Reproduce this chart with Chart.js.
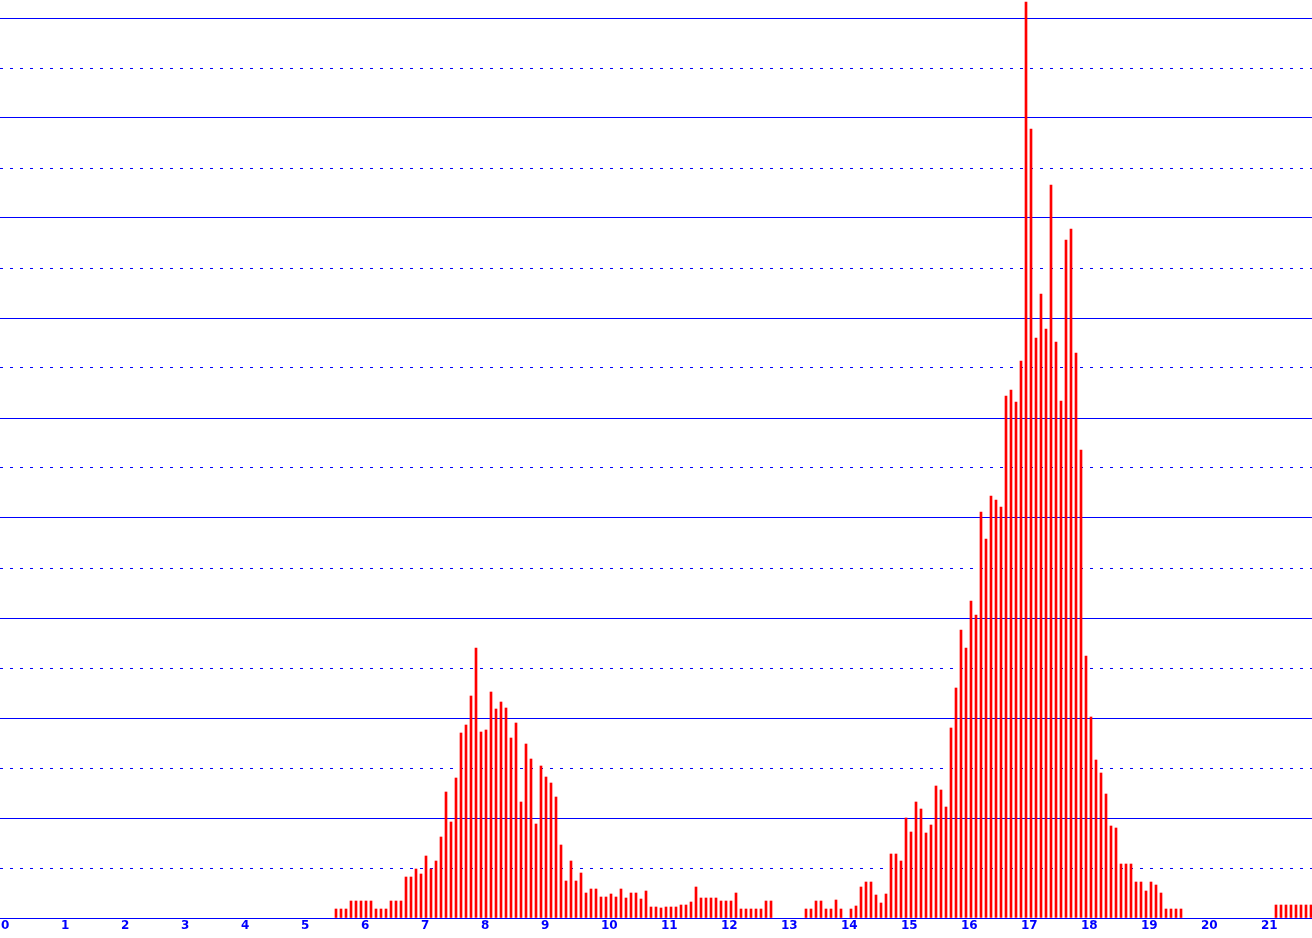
<!DOCTYPE html>
<html>
<head>
<meta charset="utf-8">
<script src="https://cdn.jsdelivr.net/npm/chart.js@4/dist/chart.umd.min.js"></script>
<style>
  html, body { margin: 0; padding: 0; background: #ffffff; }
  #wrap { width: 1312px; height: 938px; }
</style>
</head>
<body>
<div id="wrap"><canvas id="c" width="1312" height="938"></canvas></div>
<script>
// ---- data ----
const binsPerUnit = 12;          // bin width = 1/12 of an x unit
const firstBin = 67;             // index of first bin shown (67/12 ≈ 5.58)
const counts = [
  // 5.58 .. 9.58
  9, 9, 9, 17, 17, 17, 17, 17, 9, 9, 9, 17, 17, 17, 41, 41, 49, 44, 62, 49,
  57, 81, 126, 96, 140, 185, 193, 222, 270, 186, 188, 226, 209, 216, 210, 180, 195, 116, 174, 159,
  94, 152, 141, 135, 121, 73, 37, 57, 37,
  // 9.67 .. 13.58
  45, 25, 29, 29, 21, 21, 24, 21, 29, 20, 25, 25, 19, 27, 11, 11, 10, 11, 11, 11,
  13, 13, 16, 31, 20, 20, 20, 20, 17, 17, 17, 25, 9, 9, 9, 9, 9, 17, 17, 0,
  0, 0, 0, 0, 0, 9, 9, 17,
  // 13.67 .. 16.25
  17, 9, 9, 18, 9, 0, 9, 12, 31, 36, 36, 23, 15, 24, 64, 64, 57, 100, 86, 116,
  109, 85, 93, 132, 128, 111, 190, 230, 288, 270, 317, 303,
  // 16.33 .. 18.0
  406, 379, 422, 418, 411, 522, 528, 516, 557, 916, 789, 580, 624, 589, 733, 576, 517, 678, 689, 565,
  468,
  // 18.08 .. 19.67
  262, 201, 158, 145, 124, 92, 90, 54, 54, 54, 36, 36, 27, 36, 33, 25, 9, 9, 9, 9,
  // 19.75 .. 21.17 (empty)
  0, 0, 0, 0, 0, 0, 0, 0, 0, 0, 0, 0, 0, 0, 0, 0, 0, 0,
  // 21.25 ..
  13, 13, 13, 13, 13, 13, 13, 13
];
const xTickValues = [0,1,2,3,4,5,6,7,8,9,10,11,12,13,14,15,16,17,18,19,20,21];
const xTickLabels = ['0','1','2','3','4','5','6','7','8','9','10','11','12','13','14','15','16','17','18','19','20','21'];
const solidGridValues = [0,100,200,300,400,500,600,700,800,900];
const dottedGridValues = [50,150,250,350,450,550,650,750,850];

// ---- chart ----
const BLUE = '#0000ff';
const RED = '#ff0000';
const points = counts
  .map((v, i) => ({ x: (firstBin + i) / binsPerUnit, y: v }))
  .filter(p => p.y > 0);

const W = 1312;
const xMin = -1 / 60;
const xMax = xMin + W / 60;
const yMax = 918;

new Chart(document.getElementById('c'), {
  type: 'bar',
  data: {
    datasets: [{
      data: points,
      backgroundColor: RED,
      borderWidth: 0,
      barThickness: 2,
      xAxisID: 'x',
      yAxisID: 'y'
    }]
  },
  options: {
    responsive: false,
    animation: false,
    devicePixelRatio: 1,
    layout: { padding: 0 },
    plugins: { legend: { display: false }, tooltip: { enabled: false } },
    scales: {
      x: {
        type: 'linear',
        position: 'bottom',
        offset: false,
        min: xMin,
        max: xMax,
        afterBuildTicks: s => { s.ticks = xTickValues.map(v => ({ value: v })); },
        afterFit: s => { s.height = 20; },
        grid: { display: false, drawTicks: false, offset: false },
        border: { display: false },
        ticks: {
          align: 'start',
          autoSkip: false,
          maxRotation: 0,
          minRotation: 0,
          padding: 1,
          color: BLUE,
          font: { family: 'DejaVu Sans', size: 12, weight: 'bold' },
          callback: (v) => {
            const i = xTickValues.indexOf(v);
            return i >= 0 ? xTickLabels[i] : '';
          }
        }
      },
      y2: {
        type: 'linear',
        position: 'left',
        min: 0,
        max: yMax,
        afterBuildTicks: s => { s.ticks = dottedGridValues.map(v => ({ value: v })); },
        afterFit: s => { s.width = 0; },
        grid: { color: BLUE, lineWidth: 1, drawTicks: false },
        border: { display: false, dash: [3, 7] },
        ticks: { display: false }
      },
      y: {
        type: 'linear',
        position: 'left',
        min: 0,
        max: yMax,
        afterBuildTicks: s => { s.ticks = solidGridValues.map(v => ({ value: v })); },
        afterFit: s => { s.width = 0; },
        grid: { color: BLUE, lineWidth: 1, drawTicks: false },
        border: { display: false },
        ticks: { display: false }
      }
    }
  }
});
</script>
</body>
</html>
